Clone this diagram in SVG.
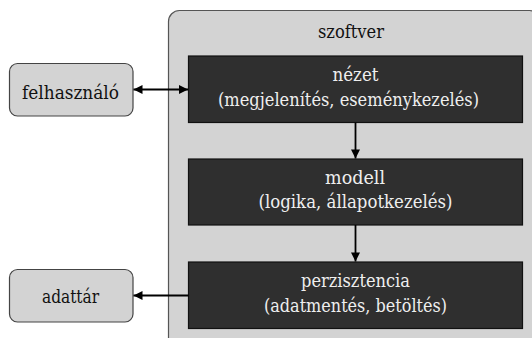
<svg xmlns="http://www.w3.org/2000/svg" width="532" height="338" viewBox="0 0 532 338">
<style>
text{font-size:18px;text-anchor:middle;font-family:'DejaVu Serif Condensed','DejaVu Serif',serif}
.cont{fill:#d3d3d3;stroke:#555;stroke-width:1.2}
.ext{fill:#d3d3d3;stroke:#444;stroke-width:1.2}
.layer{fill:#2f2f2f;stroke:#111;stroke-width:1.2}
.lt{fill:#eeeeee}
.dk{fill:#111}
.conn{stroke:#000;stroke-width:1.8;fill:none}
</style>
<defs>
<marker id="ah" viewBox="0 0 10 10" refX="10" refY="5" markerWidth="10" markerHeight="9" markerUnits="userSpaceOnUse" orient="auto-start-reverse">
<path d="M0,0 L10,5 L0,10 z" fill="#000"/>
</marker>
</defs>
<g id="szoftver">
<rect class="cont" x="168.5" y="10.5" width="372" height="340" rx="11"/>
<text class="dk" x="351" y="38" textLength="66" lengthAdjust="spacingAndGlyphs">szoftver</text>
</g>
<g id="felhasznalo">
<rect class="ext" x="9.5" y="63.5" width="123.5" height="52.5" rx="8"/>
<text class="dk" x="70.5" y="98.5" textLength="97" lengthAdjust="spacingAndGlyphs">felhasználó</text>
</g>
<g id="adattar">
<rect class="ext" x="9.5" y="269.5" width="123.5" height="52.5" rx="8"/>
<text class="dk" x="70.5" y="303" textLength="57" lengthAdjust="spacingAndGlyphs">adattár</text>
</g>
<g id="nezet">
<rect class="layer" x="188.5" y="56" width="334" height="66.5"/>
<text class="lt" x="355.5" y="81.3" textLength="46" lengthAdjust="spacingAndGlyphs">nézet</text>
<text class="lt" x="348.5" y="105.7" textLength="261" lengthAdjust="spacingAndGlyphs">(megjelenítés, eseménykezelés)</text>
</g>
<g id="modell">
<rect class="layer" x="188.5" y="159" width="334" height="66"/>
<text class="lt" x="355" y="183.5" textLength="60" lengthAdjust="spacingAndGlyphs">modell</text>
<text class="lt" x="355.5" y="208" textLength="194" lengthAdjust="spacingAndGlyphs">(logika, állapotkezelés)</text>
</g>
<g id="perzisztencia">
<rect class="layer" x="188.5" y="262" width="334" height="66.5"/>
<text class="lt" x="355.5" y="287" textLength="109" lengthAdjust="spacingAndGlyphs">perzisztencia</text>
<text class="lt" x="355.5" y="311.5" textLength="183" lengthAdjust="spacingAndGlyphs">(adatmentés, betöltés)</text>
</g>
<g id="connectors">
<line class="conn" x1="133.5" y1="89.5" x2="188" y2="89.5" marker-start="url(#ah)" marker-end="url(#ah)"/>
<line class="conn" x1="355.5" y1="122.5" x2="355.5" y2="158.5" marker-end="url(#ah)"/>
<line class="conn" x1="355.5" y1="225" x2="355.5" y2="261.5" marker-end="url(#ah)"/>
<line class="conn" x1="188.5" y1="295.5" x2="133.5" y2="295.5" marker-end="url(#ah)"/>
</g>
</svg>
